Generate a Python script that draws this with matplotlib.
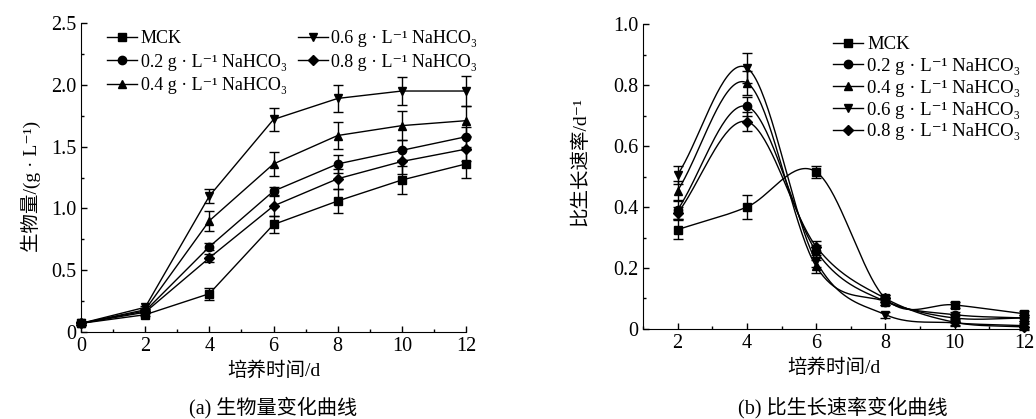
import numpy as np
import matplotlib
matplotlib.use('Agg')
import matplotlib.pyplot as plt
from matplotlib.ticker import MultipleLocator, FuncFormatter

plt.rcParams['font.family'] = ['Liberation Serif', 'DejaVu Serif', 'Noto Sans CJK SC']
plt.rcParams['font.size'] = 14

# data
labels = ['MCK',
          '0.2 g · L⁻¹ NaHCO₃',
          '0.4 g · L⁻¹ NaHCO₃',
          '0.6 g · L⁻¹ NaHCO₃',
          '0.8 g · L⁻¹ NaHCO₃']
markers = ['s', 'o', '^', 'v', 'D']

days_a = [0, 2, 4, 6, 8, 10, 12]
biomass = [
    [0.07, 0.14, 0.31, 0.87, 1.06, 1.23, 1.36],
    [0.07, 0.17, 0.69, 1.14, 1.36, 1.47, 1.58],
    [0.07, 0.18, 0.90, 1.36, 1.59, 1.67, 1.71],
    [0.07, 0.20, 1.10, 1.72, 1.89, 1.95, 1.95],
    [0.07, 0.16, 0.60, 1.02, 1.24, 1.38, 1.48],
]
biomass_err = [
    [0.01, 0.01, 0.05, 0.07, 0.10, 0.11, 0.11],
    [0.01, 0.01, 0.03, 0.03, 0.07, 0.08, 0.08],
    [0.01, 0.01, 0.08, 0.10, 0.11, 0.12, 0.12],
    [0.01, 0.01, 0.06, 0.09, 0.11, 0.11, 0.12],
    [0.01, 0.01, 0.03, 0.08, 0.08, 0.10, 0.10],
]

days_b = [2, 4, 6, 8, 10, 12]
rate = [
    [0.326, 0.400, 0.515, 0.100, 0.079, 0.050],
    [0.391, 0.730, 0.255, 0.090, 0.047, 0.036],
    [0.454, 0.807, 0.205, 0.090, 0.036, 0.036],
    [0.506, 0.856, 0.222, 0.047, 0.020, 0.011],
    [0.380, 0.680, 0.270, 0.100, 0.022, 0.007],
]
rate_err = [
    [0.03, 0.04, 0.02, 0.01, 0.01, 0.01],
    [0.03, 0.03, 0.02, 0.01, 0.01, 0.01],
    [0.03, 0.04, 0.02, 0.01, 0.01, 0.01],
    [0.03, 0.05, 0.02, 0.01, 0.01, 0.01],
    [0.02, 0.03, 0.02, 0.01, 0.01, 0.01],
]


def smooth(x, y, n=40):
    # catmull-rom style hermite curve through the points
    x = np.asarray(x, float)
    y = np.asarray(y, float)
    m = np.zeros(len(x))
    m[1:-1] = (y[2:] - y[:-2]) / (x[2:] - x[:-2])
    m[0] = (y[1] - y[0]) / (x[1] - x[0])
    m[-1] = (y[-1] - y[-2]) / (x[-1] - x[-2])
    xs, ys = [], []
    for i in range(len(x) - 1):
        h = x[i + 1] - x[i]
        t = np.linspace(0, 1, n)
        h00 = 2 * t**3 - 3 * t**2 + 1
        h10 = t**3 - 2 * t**2 + t
        h01 = -2 * t**3 + 3 * t**2
        h11 = t**3 - t**2
        xs.append(x[i] + t * h)
        ys.append(h00 * y[i] + h10 * h * m[i] + h01 * y[i + 1] + h11 * h * m[i + 1])
    return np.concatenate(xs), np.concatenate(ys)


def fmt(v, pos):
    return '0' if abs(v) < 1e-9 else '%.1f' % v


def msize(mk):
    return 5 if mk == 'D' else 6


fig = plt.figure(figsize=(10.36, 4.19), dpi=100)
ax1 = fig.add_axes([0.0782, 0.2076, 0.3716, 0.7374])
ax2 = fig.add_axes([0.6207, 0.2148, 0.3677, 0.7279])

for i in range(5):
    ax1.errorbar(days_a, biomass[i], yerr=biomass_err[i], fmt='none', ecolor='black',
                 capsize=3.5, elinewidth=1, capthick=1, clip_on=False, zorder=2)
    ax1.plot(days_a, biomass[i], color='black', lw=1, marker=markers[i],
             ms=msize(markers[i]), label=labels[i], clip_on=False, zorder=3)

for i in range(5):
    xs, ys = smooth(days_b, rate[i])
    ax2.plot(xs, ys, color='black', lw=1, zorder=2)
    ax2.errorbar(days_b, rate[i], yerr=rate_err[i], fmt='none', ecolor='black',
                 capsize=3.5, elinewidth=1, capthick=1, clip_on=False, zorder=2)
    ax2.plot(days_b, rate[i], color='black', lw=0, marker=markers[i],
             ms=msize(markers[i]), clip_on=False, zorder=3)
    ax2.plot([], [], color='black', lw=1, marker=markers[i],
             ms=msize(markers[i]), label=labels[i])

for ax in (ax1, ax2):
    ax.spines['top'].set_visible(False)
    ax.spines['right'].set_visible(False)
    ax.tick_params(which='both', direction='in', width=1, labelsize=14.5)
    ax.tick_params(which='major', length=4)
    ax.tick_params(which='minor', length=2.5)
    ax.xaxis.set_major_locator(MultipleLocator(2))
    ax.xaxis.set_minor_locator(MultipleLocator(1))
    ax.yaxis.set_major_formatter(FuncFormatter(fmt))
    ax.set_xlabel('培养时间/d', fontsize=14, labelpad=4)

ax1.set_xlim(0, 12)
ax1.set_ylim(0, 2.5)
ax1.yaxis.set_major_locator(MultipleLocator(0.5))
ax1.yaxis.set_minor_locator(MultipleLocator(0.25))
ax1.set_ylabel('生物量/(g · L⁻¹)', fontsize=14)
ax1.yaxis.set_label_coords(-0.105, 0.47)
ax1.legend(ncol=2, loc='upper left', bbox_to_anchor=(0.05, 1.0), frameon=False,
           fontsize=13, handlelength=1.65, handletextpad=0.2, columnspacing=0.6,
           labelspacing=0.35, borderaxespad=0)

ax2.set_xlim(1, 12)
ax2.set_ylim(0, 1.0)
ax2.yaxis.set_major_locator(MultipleLocator(0.2))
ax2.yaxis.set_minor_locator(MultipleLocator(0.1))
ax2.set_ylabel('比生长速率/d⁻¹', fontsize=14)
ax2.yaxis.set_label_coords(-0.142, 0.55)
ax2.legend(loc='upper left', bbox_to_anchor=(0.48, 0.985), frameon=False,
           fontsize=13.5, handlelength=1.6, handletextpad=0.2,
           labelspacing=0.25, borderaxespad=0)

fig.text(0.2635, 0.026, '(a) 生物量变化曲线', ha='center', va='center', fontsize=14.5)
fig.text(0.814, 0.026, '(b) 比生长速率变化曲线', ha='center', va='center', fontsize=14.5)

fig.savefig('out.png', dpi=100)
